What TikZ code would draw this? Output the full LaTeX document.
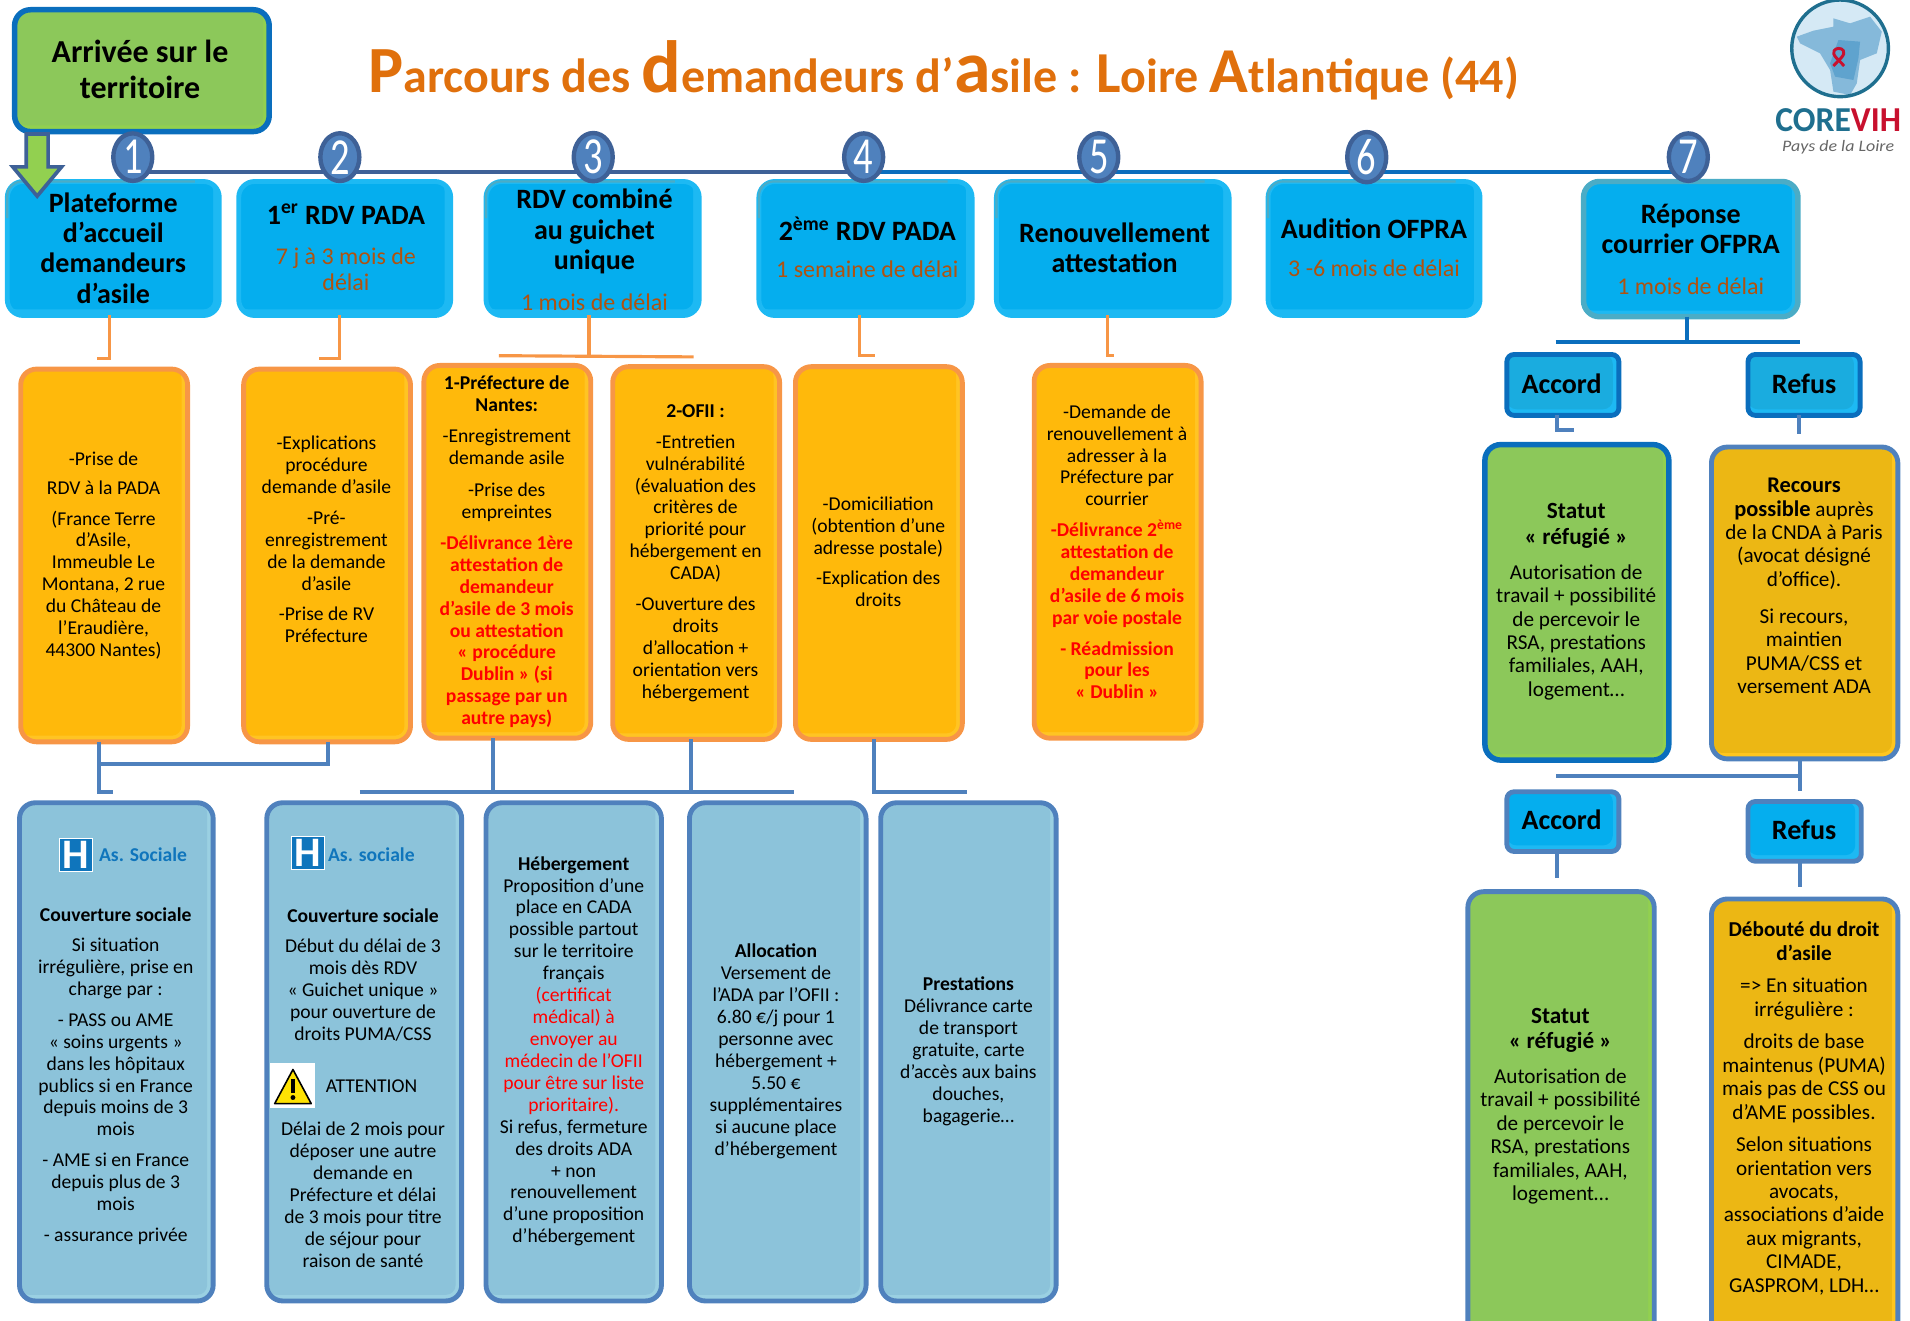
\documentclass[tikz,border=0pt]{standalone}
\usepackage{fontspec}
\usepackage{graphicx}
\setmainfont{Carlito}
\usetikzlibrary{backgrounds}
\newdimen\uu \uu=0.609pt
\definecolor{topborder}{HTML}{0A6EBD}
\definecolor{lime}{HTML}{92D050}
\definecolor{limeB}{HTML}{8CC85A}
\definecolor{cyanL}{HTML}{1DB9F3}
\definecolor{cyanD}{HTML}{05AEEE}
\definecolor{ornB}{HTML}{F79646}
\definecolor{ornD}{HTML}{FFB90B}
\definecolor{ornL}{HTML}{FFC423}
\definecolor{steel}{HTML}{4F81BD}
\definecolor{skyD}{HTML}{8CC3DA}
\definecolor{skyL}{HTML}{9AD0E2}
\definecolor{goldD}{HTML}{ECB714}
\definecolor{goldL}{HTML}{FFC61E}
\definecolor{delay}{HTML}{B0520F}
\definecolor{navy}{HTML}{3E6197}
\definecolor{linkblue}{HTML}{0F75BC}
\definecolor{titleo}{HTML}{E0700C}
\definecolor{teal}{HTML}{4BACC6}
\definecolor{tagD}{HTML}{1AACDF}
\definecolor{logoB}{HTML}{1F6F8F}
\definecolor{logoR}{HTML}{C8102E}
\definecolor{logoL}{HTML}{D5E9F5}
\definecolor{logoM}{HTML}{85B9DA}
\definecolor{logoN}{HTML}{5FA3CE}
\newcommand\bx[6]{%
  \pgfmathsetmacro\cx{(#2+#4)/2}\pgfmathsetmacro\cy{(#3+#5)/2}%
  \pgfmathsetmacro\bw{#4-#2}\pgfmathsetmacro\bh{#5-#3}%
  \node[#6, minimum width=\bw\uu, minimum height=\bh\uu] (#1) at (\cx,\cy) {};}
\newcommand\Rb[1]{\textcolor{red}{\textbf{#1}}}
\newcommand\Rn[1]{\textcolor{red}{#1}}
\newcommand\Dl[1]{{\fontsize{12}{12.8}\selectfont\mdseries\textcolor{delay}{#1}}}
\newcommand\Nm[1]{\scalebox{.74}[1]{#1}}
\tikzset{
  panel/.style n args={3}{draw=#1, line width=4\uu, rounded corners=13\uu, inner sep=0pt, outer sep=0pt, fill=#2,
    path picture={\fill[#3, rounded corners=8\uu] (path picture bounding box.north west) rectangle ([xshift=-5\uu,yshift=5\uu]path picture bounding box.south east);}},
  headbox/.style={panel={cyanL}{cyanL}{cyanD}},
  ornbox/.style={panel={ornB}{ornL}{ornD}},
  skybox/.style={panel={steel}{skyL}{skyD}},
  limebox/.style={panel={topborder}{lime}{limeB}},
  limebox2/.style={panel={steel}{lime}{limeB}},
  goldbox/.style={panel={steel}{goldL}{goldD}},
  tagbox/.style={panel={topborder}{cyanL}{tagD}, rounded corners=6\uu},
  tagbox2/.style={panel={steel}{cyanL}{cyanD}, rounded corners=6\uu},
  num/.style={ellipse,draw=navy, fill=steel, line width=3.6\uu, minimum width=32\uu, minimum height=39\uu, inner sep=0pt, text=white, font=\fontsize{26}{26}\selectfont},
  body/.style={align=center, inner sep=0pt, font=\fontsize{9.8}{10.96}\selectfont},
  big/.style={align=center, inner sep=0pt, font=\fontsize{10.6}{11.7}\selectfont},
  head/.style={align=center, inner sep=0pt, font=\fontsize{14}{15.2}\selectfont\bfseries},
  olink/.style={draw=ornB, line width=2.6\uu},
  blink/.style={draw=steel, line width=3\uu},
  dlink/.style={draw=topborder, line width=3\uu},
  social/.style={inner sep=0pt, text=linkblue, font=\fontsize{9.8}{11}\selectfont\bfseries},
  edgehint/.style={draw=teal, line width=1.8\uu, rounded corners=12\uu},
}
\usetikzlibrary{shapes.geometric}
\begin{document}
\begin{tikzpicture}[x=0.609pt,y=-0.609pt]
\useasboundingbox (0,0) rectangle (1568,1084);
\clip (0,0) rectangle (1568,1084);

% title
\node[anchor=base west, inner sep=0pt, text=titleo, font=\fontsize{24}{24}\selectfont\bfseries] (title) at (302,76)
 {{\fontsize{33}{33}\selectfont P}arcours des {\fontsize{37}{37}\selectfont d}emandeurs d’{\fontsize{37}{37}\selectfont a}sile : {\fontsize{29}{29}\selectfont L}oire {\fontsize{32}{32}\selectfont A}tlantique (44)};

% top box
\bx{start}{12}{8}{221}{108}{limebox, line width=4.5\uu}
\node[head, font=\fontsize{16}{17.6}\selectfont\bfseries] (startT) at (115,57) {Arrivée sur le\\territoire};

% header boxes
\bx{h1}{6}{149}{180}{259}{headbox}
\bx{h2}{196}{149}{370}{259}{headbox}
\bx{h3}{399}{149}{574}{259}{headbox}
\bx{h4}{623}{149}{798}{259}{headbox}
\bx{h5}{818}{149}{1009}{259}{headbox}
\bx{h6}{1041}{149}{1215}{259}{headbox}
\bx{h7}{1300}{149}{1476}{260}{panel={teal}{cyanL}{cyanD}, line width=4.5\uu}
\foreach \hb in {h1,h3,h4,h5,h6}{
  \draw[edgehint] ([yshift=-30\uu]\hb.north west) -- (\hb.north west) -- ([xshift=-20\uu]\hb.north east);
}

\node[head] (h1T) at (93,203.5) {Plateforme\\d’accueil\\demandeurs\\d’asile};
\node[head] (h2T) at (284,203) {1\textsuperscript{er} RDV PADA\\[5pt]\Dl{7 j à 3 mois de}\\[-2.4pt]\Dl{délai}};
\node[head] (h3T) at (488,205) {RDV combiné\\au guichet\\unique\\[5pt]\Dl{1 mois de délai}};
\node[head] (h4T) at (712,203) {2\textsuperscript{ème} RDV PADA\\[3.2pt]\Dl{1 semaine de délai}};
\node[head] (h5T) at (915,203.5) {Renouvellement\\attestation};
\node[head] (h6T) at (1128,203.5) {Audition OFPRA\\[3.8pt]\Dl{3 -6 mois de délai}};
\node[head] (h7T) at (1388,204.5) {Réponse\\courrier OFPRA\\[5pt]\Dl{1 mois de délai}};

% numbers and the line joining them
\node[num] (n1) at (109,129) {\Nm{1}};
\node[num] (n2) at (279,129) {\Nm{2}};
\node[num] (n3) at (487,129) {\Nm{3}};
\node[num] (n4) at (709,129) {\Nm{4}};
\node[num] (n5) at (902,129) {\Nm{5}};
\node[num] (n6) at (1122,129) {\Nm{6}};
\node[num] (n7) at (1386,129) {\Nm{7}};
\begin{scope}[on background layer]
\draw[navy, line width=3.6\uu] ([yshift=-12\uu]n1.center) -- ([yshift=-12\uu]n4.center);
\draw[topborder, line width=3.6\uu] ([yshift=-12\uu]n4.center) -- ([yshift=-12\uu]n7.center);
\end{scope}

% arrow from the top box
\draw[navy, line width=3\uu, fill=lime, line join=miter]
  ([xshift=-95\uu]start.south) ++(0,2) coordinate (ar0) -- ++(18,0) -- ++(0,27) -- ++(11,0) -- ++(-20,24) -- ++(-20,-24) -- ++(11,0) -- cycle;

% orange boxes
\bx{o1}{17}{303}{154}{609}{ornbox}
\bx{o2}{200}{303}{337}{609}{ornbox}
\bx{o3}{348}{300}{485}{606}{ornbox}
\bx{o4}{503}{301}{640}{607}{ornbox}
\bx{o5}{653}{301}{790}{607}{ornbox}
\bx{o6}{849}{300}{986}{606}{ornbox}

% orange links
\draw[olink] ([xshift=-3\uu]h1.south) -- ++(0,35) -- ++(-10,0);
\draw[olink] ([xshift=-4\uu]h2.south) -- ++(0,35) -- ++(-17,0);
\draw[olink] ([xshift=-3\uu]h3.south) -- ++(0,33);
\draw[olink] ([xshift=-77\uu,yshift=-33\uu]h3.south) -- ++(160,1);
\draw[olink] ([xshift=-5\uu]h4.south) -- ++(0,33) -- ++(13,0);
\draw[olink] ([xshift=-4\uu]h5.south) -- ++(0,33) -- ++(5,0);

\node[body] (o1T) at (85,456) {-Prise de\\[3.6pt]RDV à  la PADA\\[4.4pt](France Terre\\d’Asile,\\Immeuble Le\\Montana, 2 rue\\du Château de\\l’Eraudière,\\44300 Nantes)};
\node[body] (o2T) at (268,443) {-Explications\\procédure\\demande d’asile\\[4.4pt]-Pré-\\enregistrement\\de la demande\\d’asile\\[4.4pt]-Prise de RV\\Préfecture};
\node[body] (o3T) at (416,453) {\textbf{1-Préfecture  de}\\\textbf{Nantes:}\\[4.7pt]-Enregistrement\\demande asile\\[4.7pt]-Prise des\\empreintes\\[4.7pt]\Rb{-Délivrance 1ère}\\\Rb{attestation de}\\\Rb{demandeur}\\\Rb{d’asile de 3 mois}\\\Rb{ou attestation}\\\Rb{« procédure}\\\Rb{Dublin » (si}\\\Rb{passage par un}\\\Rb{autre pays)}};
\node[body] (o4T) at (571,454) {\textbf{2-OFII :}\\[4.4pt]-Entretien\\vulnérabilité\\(évaluation des\\critères de\\priorité pour\\hébergement en\\CADA)\\[4.4pt]-Ouverture des\\droits\\d’allocation  +\\orientation vers\\hébergement};
\node[body] (o5T) at (721,453) {-Domiciliation\\(obtention d’une\\adresse postale)\\[4.4pt]-Explication des\\droits};
\node[body] (o6T) at (917,453) {-Demande de\\renouvellement à\\adresser à la\\Préfecture par\\courrier\\[4.4pt]\Rb{-Délivrance 2\textsuperscript{ème}}\\\Rb{attestation de}\\\Rb{demandeur}\\\Rb{d’asile de 6 mois}\\\Rb{par voie postale}\\[4.4pt]\Rb{- Réadmission}\\\Rb{pour les}\\\Rb{« Dublin »}};

% light blue boxes
\bx{s1}{16}{659}{175}{1068}{skybox}
\bx{s2}{219}{659}{379}{1068}{skybox}
\bx{s3}{399}{659}{543}{1068}{skybox}
\bx{s4}{566}{659}{711}{1068}{skybox}
\bx{s5}{723}{659}{867}{1068}{skybox}

% blue links
\draw[blink] ([xshift=-4\uu]o1.south) -- ++(0,41) -- ++(11,0);
\draw[blink] ([xshift=-4\uu,yshift=-18\uu]o1.south) -- ([xshift=1\uu,yshift=-18\uu]o2.south) -- ([xshift=1\uu]o2.south);
\draw[blink] ([xshift=-12\uu]o3.south) -- ++(0,44);
\draw[blink] ([xshift=-121\uu,yshift=-44\uu]o3.south) -- ++(356,0);
\draw[blink] ([xshift=-4\uu]o4.south) -- ++(0,43);
\draw[blink] ([xshift=-4\uu]o5.south) -- ++(0,43) -- ++(76,0);

% icons
\node[draw=white, fill=linkblue, line width=0.6\uu, minimum width=27\uu, minimum height=27\uu, inner sep=0pt, text=white, font=\fontsize{21}{21}\selectfont\bfseries] (hA) at (62,702) {H};
\node[social, anchor=west] (hAT) at (81,702) {As. Sociale};
\node[draw=white, fill=linkblue, line width=0.6\uu, minimum width=27\uu, minimum height=27\uu, inner sep=0pt, text=white, font=\fontsize{21}{21}\selectfont\bfseries] (hB) at (253,700) {H};
\node[social, anchor=west] (hBT) at (269,702) {As. sociale};
\fill[white] (222,873) rectangle (259,910);
\draw[black, fill=yellow!85!orange, line width=1.3\uu, line join=round] (240.5,878) -- (255.5,906) -- (225.5,906) -- cycle;
\fill[black] (239,886) rectangle (242,897);
\fill[black] (240.5,901) circle (2);

\node[body] (s1T) at (95,883.5) {\textbf{Couverture sociale}\\[4pt]Si situation\\irrégulière, prise en\\charge par :\\[4.4pt]- PASS ou AME\\« soins urgents »\\dans les hôpitaux\\publics si en France\\depuis moins de 3\\mois\\[4.4pt]- AME si en France\\depuis plus de 3\\mois\\[4.4pt]-  assurance privée};
\node[body] (s2T) at (298,800.5) {\textbf{Couverture sociale}\\[4pt]Début du délai de 3\\mois dès RDV\\« Guichet unique »\\pour ouverture de\\droits PUMA/CSS};
\node[body] (s2A) at (305,892) {ATTENTION};
\node[body] (s2B) at (298,981) {Délai de 2 mois pour\\déposer une autre\\demande  en\\Préfecture et délai\\de 3 mois pour titre\\de séjour pour\\raison de santé};
\node[body] (s3T) at (471,863) {\textbf{Hébergement}\\Proposition d’une\\place en CADA\\possible partout\\sur le territoire\\français\\\Rn{(certificat}\\\Rn{médical) à}\\\Rn{envoyer au}\\\Rn{médecin de l’OFII}\\\Rn{pour être sur liste}\\\Rn{prioritaire).}\\Si refus, fermeture\\des droits ADA\\+ non\\renouvellement\\d’une proposition\\d’hébergement};
\node[body] (s4T) at (637,863) {\textbf{Allocation}\\Versement de\\l’ADA par l’OFII :\\6.80 €/j pour 1\\personne avec\\hébergement +\\5.50 €\\supplémentaires\\si aucune place\\d’hébergement};
\node[body] (s5T) at (795,863) {\textbf{Prestations}\\Délivrance carte\\de transport\\gratuite, carte\\d’accès aux bains\\douches,\\bagagerie…};

% right branch
\draw[dlink] (h7.south) ++(-3,0) -- ++(0,21);
\draw[dlink] ([xshift=-111\uu,yshift=-21\uu]h7.south) -- ++(201,0);
\bx{ac1}{1237}{291}{1329}{341}{tagbox}
\bx{re1}{1435}{291}{1527}{341}{tagbox}
\node[head] (ac1T) at (1282,315) {Accord};
\node[head] (re1T) at (1481,315) {Refus};
\draw[dlink, steel] ([xshift=-5\uu]ac1.south) -- ++(0,12) -- ++(14,0);
\draw[dlink, steel] ([xshift=-4\uu]re1.south) -- ++(0,15);

\bx{g1}{1219}{365}{1370}{624}{limebox, line width=4.5\uu}
\bx{y1}{1405}{367}{1558}{623}{goldbox}
\node[big] (g1T) at (1294,494) {{\fontsize{11.6}{12.8}\selectfont\textbf{Statut}}\\[1pt]{\fontsize{11.6}{12.8}\selectfont\textbf{« réfugié »}}\\[5.8pt]Autorisation de\\travail + possibilité\\de percevoir le\\RSA, prestations\\familiales, AAH,\\logement…};
\node[big] (y1T) at (1481,481) {{\fontsize{11.2}{11.7}\selectfont\textbf{Recours}}\\{\fontsize{11.2}{11.7}\selectfont\textbf{possible}} auprès\\de la CNDA à Paris\\(avocat désigné\\d’office).\\[6.8pt]Si recours,\\maintien\\PUMA/CSS et\\versement ADA};

\draw[blink] ([xshift=-4\uu]y1.south) -- ++(0,26);
\draw[blink] ([xshift=-4\uu,yshift=-14\uu]y1.south) -- ++(-200,0);
\bx{ac2}{1237}{650}{1329}{699}{tagbox2}
\bx{re2}{1435}{658}{1528}{707}{tagbox2}
\node[head] (ac2T) at (1282,673) {Accord};
\node[head] (re2T) at (1481,681) {Refus};
\draw[blink] ([xshift=-5\uu]ac2.south) -- ++(0,22);
\draw[blink] ([xshift=-4\uu]re2.south) -- ++(0,21);

\bx{g2}{1205}{732}{1358}{1110}{limebox2}
\bx{y2}{1405}{738}{1558}{1110}{goldbox}
\node[big] (g2T) at (1281,908) {{\fontsize{11.6}{12.8}\selectfont\textbf{Statut}}\\[1pt]{\fontsize{11.6}{12.8}\selectfont\textbf{« réfugié »}}\\[5.8pt]Autorisation de\\travail + possibilité\\de percevoir le\\RSA, prestations\\familiales, AAH,\\logement…};
\node[big] (y2T) at (1481,910) {\textbf{Débouté du droit}\\\textbf{d’asile}\\[4.6pt]=> En situation\\irrégulière :\\[4.6pt]droits de base\\maintenus (PUMA)\\mais pas de CSS ou\\d’AME possibles.\\[4.6pt]Selon situations\\orientation vers\\avocats,\\associations d’aide\\aux migrants,\\CIMADE,\\GASPROM, LDH…};

% logo
\begin{scope}[shift={(1215,0)},scale=.2737]
\fill[logoL] (1080,145) circle (145);
\fill[logoM] (950,110) -- (1000,92) -- (1060,80) -- (1060,55) -- (1110,70) -- (1170,50) -- (1205,95) -- (1190,160) -- (1140,180) -- (1130,250) -- (1110,285) -- (1060,275) -- (1050,210) -- (1020,160) -- (960,130) -- cycle;
\fill[logoN] (1075,120) -- (1140,125) -- (1135,175) -- (1120,240) -- (1065,230) -- (1050,190) -- cycle;
\draw[logoB, line width=2.8\uu] (1080,145) circle (145);
\draw[logoR, line width=2.4\uu, line join=round] (1060,198) .. controls (1075,180) and (1098,165) .. (1090,152) .. controls (1085,143) and (1067,143) .. (1062,152) .. controls (1054,165) and (1077,180) .. (1092,198);
\end{scope}
\node[inner sep=0pt, font=\fontsize{17.5}{17.5}\selectfont\bfseries, xscale=.96] (logoA) at (1509,99) {\textcolor{logoB}{CORE}\textcolor{logoR}{VIH}};
\node[inner sep=0pt, font=\fontsize{8}{8}\selectfont\itshape, text=black!60, xscale=1.12] (logoC) at (1509,120.5) {Pays de la Loire};
\end{tikzpicture}
\end{document}
